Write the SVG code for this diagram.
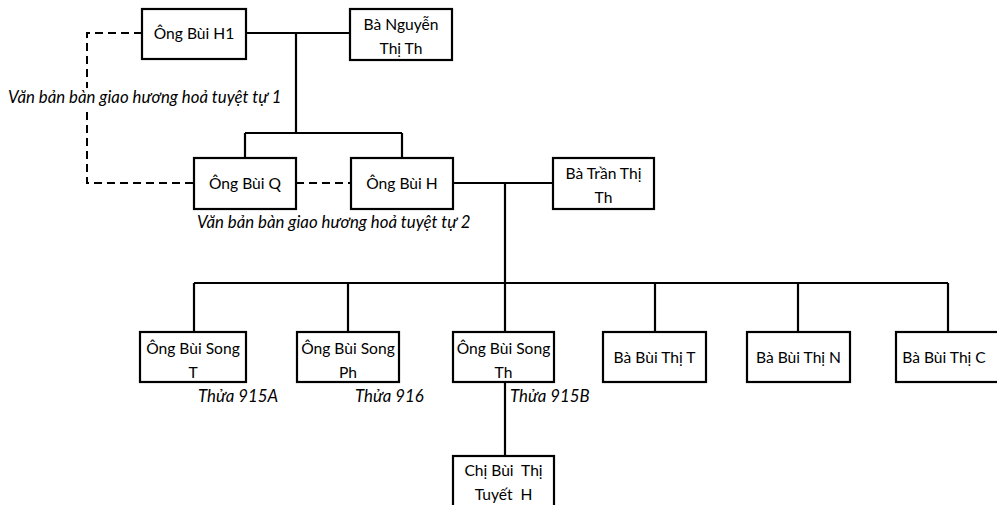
<svg xmlns="http://www.w3.org/2000/svg" width="997" height="505" viewBox="0 0 997 505">
<style>
  .box { fill: #ffffff; stroke: #000000; stroke-width: 2.2; }
  .t { font-family: Lato, "Open Sans", "Liberation Sans", sans-serif; font-size: 15.6px; fill: #000; text-anchor: middle; white-space: pre; }
  .lbl { font-family: Lato, "Open Sans", "Liberation Sans", sans-serif; font-size: 16.8px; font-style: italic; fill: #000; }
  .ln { fill: none; stroke: #000; stroke-width: 2.2; }
  .dash { fill: none; stroke: #000; stroke-width: 2; stroke-dasharray: 8 5; }
</style>
<rect width="997" height="505" fill="#ffffff"/>
<g id="connectors">
  <path class="ln" d="M246 33 H350 M296 33 V133 M245 133 H402 M245 133 V158 M402 133 V158"/>
  <path class="ln" d="M453 183 H553 M505 183 V456 M194 283 H948 M194 283 V332 M348 283 V332 M655 283 V332 M798 283 V332 M948 283 V332"/>
  <path class="dash" d="M142 33 H87 V88"/>
  <path class="dash" d="M87 112 V183 H194"/>
  <path class="dash" d="M296 183 H351"/>
</g>
<g id="n-h1"><rect class="box" x="142" y="9" width="104" height="50"/><text class="t" x="194" y="39">Ông Bùi H1</text></g>
<g id="n-nguyen"><rect class="box" x="350" y="9" width="102" height="51"/><text class="t" x="401" y="30">Bà Nguyễn</text><text class="t" x="401" y="54">Thị Th</text></g>
<g id="n-q"><rect class="box" x="194" y="158" width="102" height="51"/><text class="t" x="245" y="189">Ông Bùi Q</text></g>
<g id="n-h"><rect class="box" x="351" y="158" width="102" height="51"/><text class="t" x="402" y="189">Ông Bùi H</text></g>
<g id="n-tran"><rect class="box" x="553" y="158" width="101" height="51"/><text class="t" x="603.5" y="179">Bà Trần Thị</text><text class="t" x="603.5" y="203">Th</text></g>
<g id="n-songt"><rect class="box" x="140" y="332" width="106" height="50"/><text class="t" x="193" y="354">Ông Bùi Song</text><text class="t" x="193" y="378">T</text></g>
<g id="n-songph"><rect class="box" x="297" y="332" width="102" height="50"/><text class="t" x="348" y="354">Ông Bùi Song</text><text class="t" x="348" y="378">Ph</text></g>
<g id="n-songth"><rect class="box" x="453" y="332" width="101" height="50"/><text class="t" x="503.5" y="354">Ông Bùi Song</text><text class="t" x="503.5" y="378">Th</text></g>
<g id="n-thit"><rect class="box" x="603" y="332" width="103" height="50"/><text class="t" x="654.5" y="363">Bà Bùi Thị T</text></g>
<g id="n-thin"><rect class="box" x="747" y="332" width="103" height="50"/><text class="t" x="798.5" y="363">Bà Bùi Thị N</text></g>
<g id="n-thic"><rect class="box" x="896" y="332" width="104" height="50"/><text class="t" x="944" y="363">Bà Bùi Thị C</text></g>
<g id="n-chi"><rect class="box" x="453" y="456" width="101" height="52"/><text class="t" x="503.5" y="476">Chị Bùi  Thị</text><text class="t" x="503.5" y="500">Tuyết  H</text></g>
<g id="labels">
  <text class="lbl" x="8" y="103">Văn bản bàn giao hương hoả tuyệt tự 1</text>
  <text class="lbl" x="197" y="228">Văn bản bàn giao hương hoả tuyệt tự 2</text>
  <text class="lbl" x="198" y="402">Thửa 915A</text>
  <text class="lbl" x="355" y="402">Thửa 916</text>
  <text class="lbl" x="510" y="402">Thửa 915B</text>
</g>
</svg>
